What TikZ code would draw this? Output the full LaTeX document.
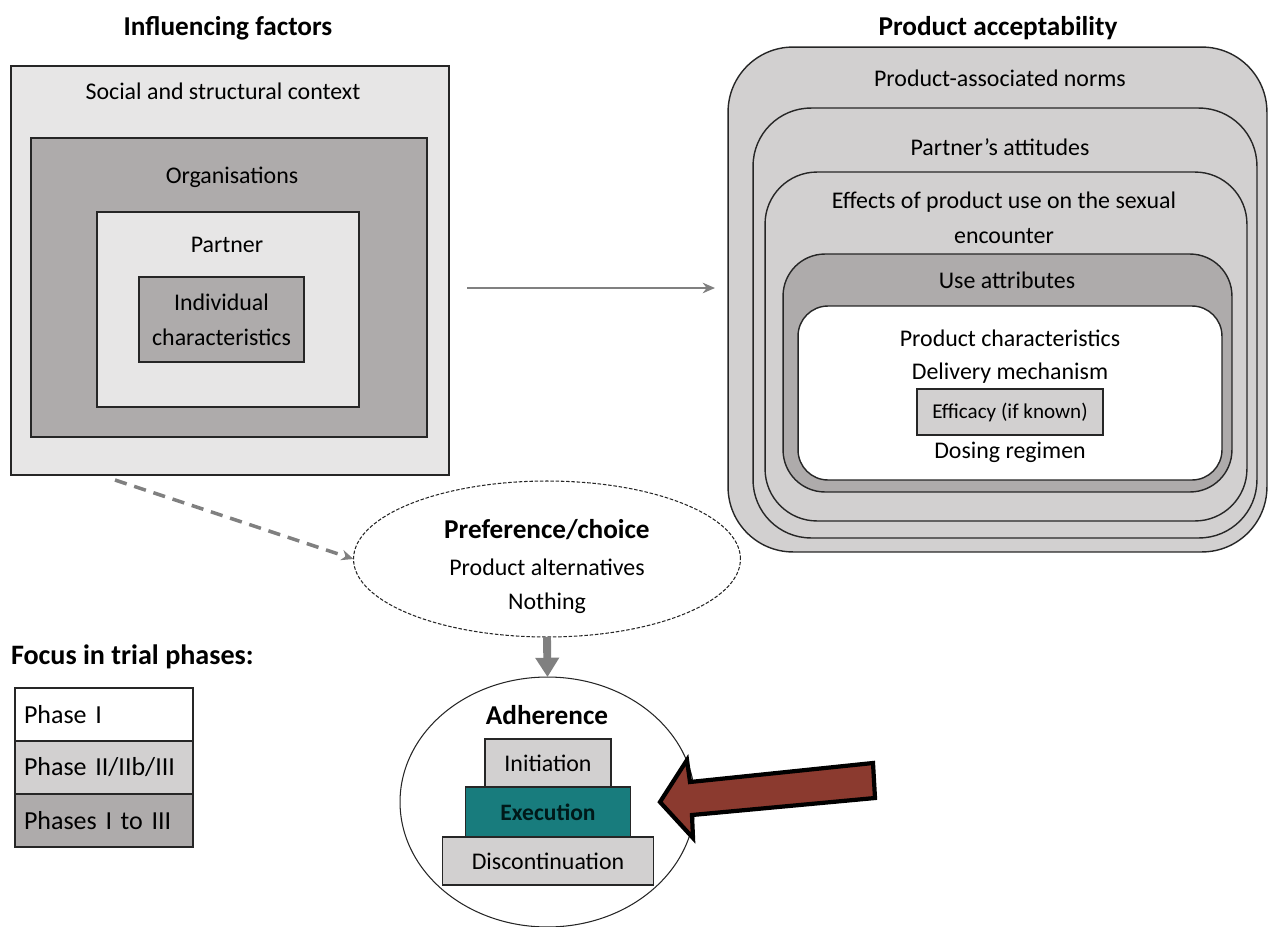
\documentclass[tikz,border=0pt]{standalone}
\usepackage{fontspec}
\setmainfont{Carlito}
\usepackage{xcolor}
\usepackage{tikz}
\usetikzlibrary{shapes,arrows,positioning,calc,arrows.meta}

\definecolor{lightbox}{HTML}{E7E6E6}
\definecolor{midbox}{HTML}{D2D0D0}
\definecolor{darkbox}{HTML}{AEABAB}
\definecolor{tealbox}{RGB}{24,124,125}
\definecolor{brick}{RGB}{139,58,47}
\definecolor{linegray}{HTML}{808080}

\begin{document}
\begin{tikzpicture}[x=0.02cm, y=-0.02cm, outer sep=0pt, node distance=0cm,
    box/.style={draw=black!85, rectangle, inner sep=0pt},
    txt/.style={font=\fontsize{13.6}{19.8}\selectfont, inner sep=0pt, align=center},
    small/.style={font=\fontsize{12}{14}\selectfont, inner sep=0pt},
    head/.style={font=\fontsize{15.5}{19}\selectfont\bfseries, inner sep=0pt},
    legend/.style={draw=black!85, rectangle, line width=0.8pt, minimum height=1.06cm, text width=3.2cm, inner xsep=0.18cm, align=left, font=\fontsize{14.8}{18}\selectfont},
    stair/.style={draw=black!85, rectangle, line width=0.8pt, minimum height=0.96cm, inner sep=0pt, font=\fontsize{13.6}{16}\selectfont},
    flow/.style={draw=linegray, line width=1.1pt, -{Stealth[length=7pt,width=6pt]}}
]
\useasboundingbox (0,0) rectangle (1269,927);

% influencing factors
\node [head] (inftitle) at (228,28) {Influencing factors};
\node [box, fill=lightbox, line width=0.7pt, minimum width=8.76cm, minimum height=8.18cm] (social) at (230,270.5) {};
\node [box, fill=darkbox, line width=1.5pt, minimum width=7.92cm, minimum height=5.98cm] (orgs) at (229,287.5) {};
\node [box, fill=lightbox, line width=1.5pt, minimum width=5.24cm, minimum height=3.9cm] (partner) at (228,309.5) {};
\node [box, fill=darkbox, line width=0.9pt, minimum width=3.3cm, minimum height=1.7cm, txt] (indiv) at (221.5,319.5) {Individual\\characteristics};
\node [txt] (sociallbl) at (223,91) {Social and structural context};
\node [txt] (orgslbl) at (232,177) {Organisations};
\node [txt] (partnerlbl) at (227,245) {Partner};

% product acceptability
\node [head] (prodtitle) at (998,28) {Product acceptability};
\node [box, fill=midbox, line width=0.8pt, rounded corners=1.3cm, minimum width=10.78cm, minimum height=10.1cm] (norms) at (997.5,299.5) {};
\node [box, fill=midbox, line width=0.8pt, rounded corners=1.16cm, minimum width=10.08cm, minimum height=8.6cm] (attit) at (1005,323) {};
\node [box, fill=midbox, line width=0.8pt, rounded corners=1.04cm, minimum width=9.64cm, minimum height=6.98cm] (effects) at (1006,346.5) {};
\node [box, fill=darkbox, line width=0.8pt, rounded corners=0.84cm, minimum width=8.98cm, minimum height=4.76cm] (useattr) at (1007.5,373) {};
\node [box, fill=white, line width=0.8pt, rounded corners=0.6cm, minimum width=8.48cm, minimum height=3.48cm] (prodchar) at (1010,393) {};
\node [box, fill=midbox, line width=0.8pt, minimum width=3.72cm, minimum height=0.92cm, small] (efficacy) at (1010,412) {Efficacy (if known)};
\node [txt] (normslbl) at (1000,78) {Product-associated norms};
\node [txt] (attitlbl) at (1000,147) {Partner’s attitudes};
\node [txt] (effectslbl) at (1004,218) {Effects of product use on the sexual\\encounter};
\node [txt] (useattrlbl) at (1007,280) {Use attributes};
\node [txt] (charlbl) at (1010,338) {Product characteristics};
\node [txt] (deliverylbl) at (1010,373) {Delivery mechanism};
\node [txt] (dosinglbl) at (1010,452) {Dosing regimen};

% preference and adherence
\node [draw=black!85, ellipse, dash pattern=on 2pt off 1pt, line width=0.6pt, minimum width=7.74cm, minimum height=3.12cm, inner sep=0pt] (pref) at (547,559) {};
\node [head] (preflbl) at (547,530) {Preference/choice};
\node [txt] (altlbl) at (547,567) {Product alternatives};
\node [txt] (nothinglbl) at (547,603) {Nothing};

\node [draw=black!85, ellipse, line width=0.6pt, minimum width=5.9cm, minimum height=5.0cm, inner sep=0pt] (adh) at (547.5,802) {};
\node [head] (adhlbl) at (547,715) {Adherence};
\node [stair, fill=midbox, minimum width=2.52cm] (init) at (548,763) {Initiation};
\node [stair, fill=tealbox, minimum width=3.3cm, minimum height=1.0cm, below=0pt of init, text=black!80!teal, font=\fontsize{13.4}{16}\selectfont\bfseries] (exec) {Execution};
\node [stair, fill=midbox, minimum width=4.22cm, below=0pt of exec] (discont) {Discontinuation};

% legend
\node [head, anchor=west, font=\fontsize{16}{19}\selectfont\bfseries] (focuslbl) at (11,657) {Focus in trial phases:};
\node [legend, fill=white] (phaseone) at (104,714.5) {Phase I};
\node [legend, fill=midbox, below=0pt of phaseone] (phasetwo) {Phase II/IIb/III};
\node [legend, fill=darkbox, below=0pt of phasetwo] (phaseall) {Phases I to III};

% connectors
\coordinate (harrowA) at (467,288);
\coordinate (harrowB) at (715,288);
\coordinate (dashA) at (115,480);
\draw [flow] (harrowA) -- (harrowB);
\draw [flow, line width=2pt, dash pattern=on 7pt off 4.5pt] (dashA) -- (pref.west);
\draw [draw=linegray, line width=4.5pt, -{Triangle[length=11pt,width=13pt]}] (pref.south) -- (adh.north);

% focus arrow
\draw [fill=brick, draw=black, line width=2.4pt, line join=miter] (660,802) -- (687,760) -- (690,782) -- (873,763) -- (875,798) -- (692,815) -- (693,838) -- cycle;
\end{tikzpicture}
\end{document}
